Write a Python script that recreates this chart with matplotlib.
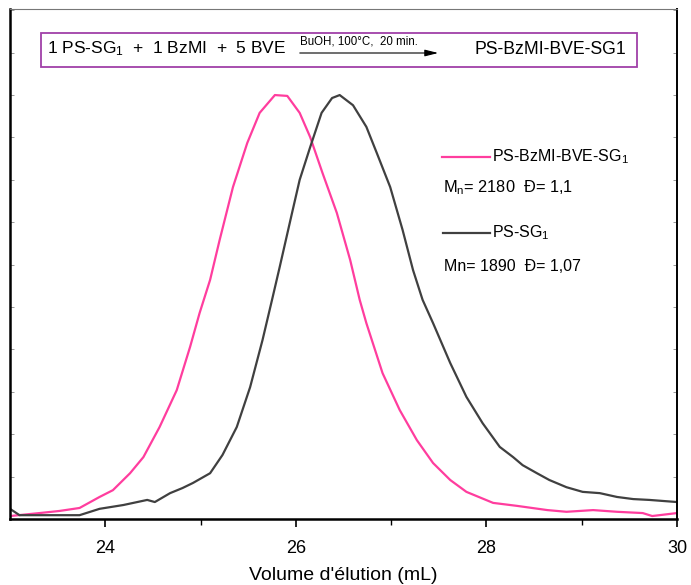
import matplotlib
matplotlib.use("Agg")
import matplotlib.pyplot as plt
from matplotlib.patches import Rectangle

plt.rcParams['font.family'] = ['Liberation Sans', 'DejaVu Sans']
plt.rcParams['mathtext.fontset'] = 'custom'
plt.rcParams['mathtext.rm'] = 'Liberation Sans'
plt.rcParams['mathtext.default'] = 'regular'

# Elution volume (mL) and normalized intensity
pink_x = [23.00, 23.31, 23.52, 23.73, 23.94, 24.08, 24.26, 24.40, 24.57, 24.75, 24.89, 24.99,
          25.10, 25.20, 25.34, 25.49, 25.62, 25.78, 25.91, 26.04, 26.15, 26.28, 26.43, 26.57,
          26.67, 26.74, 26.91, 27.09, 27.27, 27.44, 27.62, 27.79, 28.07, 28.32, 28.64, 28.84,
          29.12, 29.37, 29.64, 29.74, 30.00]
pink_y = [0.007, 0.014, 0.019, 0.026, 0.052, 0.068, 0.108, 0.146, 0.217, 0.304, 0.406, 0.486,
          0.564, 0.658, 0.783, 0.887, 0.958, 1.000, 0.998, 0.958, 0.901, 0.816, 0.722, 0.611,
          0.517, 0.462, 0.344, 0.257, 0.186, 0.132, 0.092, 0.064, 0.038, 0.031, 0.021, 0.017,
          0.021, 0.017, 0.014, 0.007, 0.014]

gray_x = [23.00, 23.10, 23.42, 23.73, 23.94, 24.19, 24.44, 24.52, 24.68, 24.81, 24.92, 25.10,
          25.23, 25.38, 25.52, 25.65, 25.75, 25.83, 25.96, 26.04, 26.15, 26.27, 26.38, 26.46,
          26.60, 26.74, 26.85, 26.99, 27.12, 27.23, 27.33, 27.44, 27.62, 27.79, 27.96, 28.14,
          28.28, 28.38, 28.53, 28.66, 28.84, 29.01, 29.19, 29.37, 29.54, 29.71, 30.00]
gray_y = [0.024, 0.009, 0.009, 0.009, 0.024, 0.033, 0.045, 0.040, 0.061, 0.073, 0.085, 0.108,
          0.151, 0.217, 0.311, 0.422, 0.517, 0.594, 0.722, 0.800, 0.877, 0.958, 0.993, 1.000,
          0.976, 0.925, 0.863, 0.783, 0.682, 0.587, 0.517, 0.462, 0.368, 0.288, 0.226, 0.170,
          0.146, 0.127, 0.108, 0.092, 0.075, 0.064, 0.061, 0.052, 0.047, 0.045, 0.040]

xticks = [24, 26, 28, 30]
PINK = '#ff3d9e'
GRAY = '#404040'

fig = plt.figure(figsize=(6.91, 5.85), dpi=100)
ax = fig.add_axes([10/691, 66/585, 667/691, 510/585])
ax.plot(pink_x, pink_y, color=PINK, lw=1.6)
ax.plot(gray_x, gray_y, color=GRAY, lw=1.6)
ax.set_xlim(23, 30)
ax.set_ylim(0, 1.203)
ax.set_xticks(xticks)
ax.set_xticks([25, 27, 29], minor=True)
ax.set_yticks([i * 0.1 for i in range(1, 13)])
ax.set_yticklabels([])
ax.tick_params(axis='x', which='major', direction='out', length=6, width=1.2, labelsize=13, pad=9)
ax.tick_params(axis='x', which='minor', direction='out', length=4, width=1.0)
ax.tick_params(axis='y', which='both', direction='in', length=3, width=0.6, left=True, right=True, colors='#888888')
for s in ['left', 'bottom']:
    ax.spines[s].set_linewidth(1.8)
ax.spines['right'].set_linewidth(1.4)
ax.spines['top'].set_linewidth(0.8)
ax.spines['top'].set_color('#777777')
ax.set_xlabel("Volume d'élution (mL)", fontsize=14, labelpad=7)

# reaction box (in figure pixel coordinates)
def fx(px):
    return px / 691
def fy(py):
    return 1 - py / 585

fig.patches.append(Rectangle((fx(41), fy(67)), fx(637) - fx(41), fy(33) - fy(67),
                             transform=fig.transFigure, fill=False, edgecolor='#a040a8', lw=1.3))
fig.text(fx(47), fy(49), r"1 PS-SG$_1$  +  1 BzMI  +  5 BVE", fontsize=12.5, va='center', ha='left')
fig.text(fx(300), fy(47), "BuOH, 100°C,  20 min.", fontsize=8.3, va='bottom', ha='left')
ax.annotate('', xy=(fx(441), fy(53)), xytext=(fx(297), fy(53)), xycoords='figure fraction',
            textcoords='figure fraction',
            arrowprops=dict(arrowstyle='-|>,head_length=0.8,head_width=0.2', color='black', lw=0.8))
fig.text(fx(474), fy(49), "PS-BzMI-BVE-SG1", fontsize=12.7, va='center', ha='left')

# legend-like annotations
fig.lines.append(plt.Line2D([fx(442), fx(490)], [fy(157), fy(157)], transform=fig.transFigure,
                            color=PINK, lw=1.6))
fig.text(fx(492), fy(157), r"PS-BzMI-BVE-SG$_1$", fontsize=11.5, va='center', ha='left')
fig.text(fx(443), fy(188), r"M$_n$= 2180  Đ= 1,1", fontsize=11.8, va='center', ha='left')
fig.lines.append(plt.Line2D([fx(443), fx(490)], [fy(233), fy(233)], transform=fig.transFigure,
                            color=GRAY, lw=1.6))
fig.text(fx(492), fy(233), r"PS-SG$_1$", fontsize=11.5, va='center', ha='left')
fig.text(fx(444), fy(267), "Mn= 1890  Đ= 1,07", fontsize=11.5, va='center', ha='left')

fig.savefig('out.png', dpi=100)
